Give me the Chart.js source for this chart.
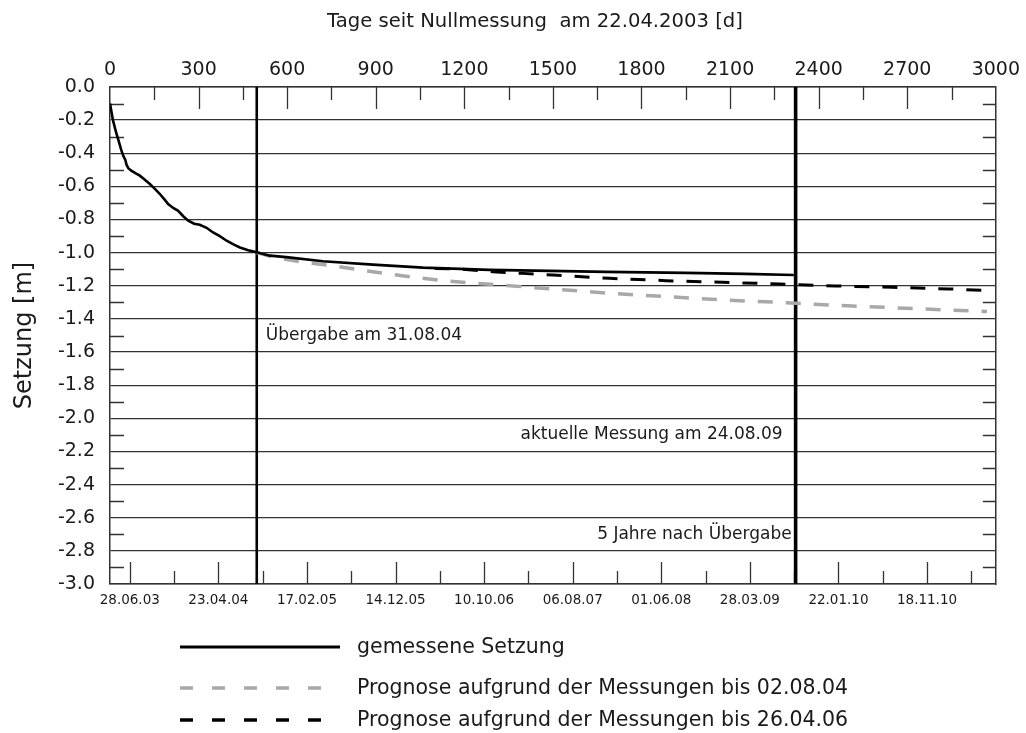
<!DOCTYPE html>
<html>
<head>
<meta charset="utf-8">
<title>Setzung</title>
<script src="https://cdn.jsdelivr.net/npm/chart.js@4.4.0/dist/chart.umd.min.js"></script>
<style>
  html, body { margin: 0; padding: 0; background: #fff; }
  #wrap { width: 1026px; height: 733px; }
</style>
</head>
<body>
<div id="wrap"><canvas id="setzungChart" width="1026" height="733"></canvas></div>
<script>
// Werte: Tage seit Nullmessung (22.04.2003) / Setzung [m]
const measuredDays = [0, 5, 10, 20, 30, 38, 46, 52, 56, 62, 72, 86, 101, 118, 135, 152, 169, 185, 197, 214, 231, 248, 265, 285, 304, 327, 349, 372, 395, 418, 440, 468, 497, 541, 597, 721, 890, 1060, 1285, 1488, 1680, 1950, 2150, 2316]
const measuredSettlement = [-0.10, -0.15, -0.20, -0.27, -0.33, -0.38, -0.42, -0.44, -0.47, -0.49, -0.505, -0.52, -0.535, -0.56, -0.586, -0.615, -0.646, -0.68, -0.707, -0.73, -0.747, -0.78, -0.807, -0.825, -0.832, -0.85, -0.878, -0.90, -0.928, -0.95, -0.969, -0.985, -0.998, -1.018, -1.027, -1.052, -1.072, -1.09, -1.104, -1.11, -1.116, -1.122, -1.128, -1.135]

const prog2004Days = [497, 560, 654, 755, 857, 947, 1037, 1127, 1229, 1330, 1421, 1511, 1691, 1888, 2080, 2272, 2458, 2649, 2841, 2970]
const prog2004Settlement = [-1.0, -1.03, -1.058, -1.079, -1.107, -1.13, -1.15, -1.168, -1.184, -1.196, -1.209, -1.221, -1.245, -1.266, -1.286, -1.300, -1.318, -1.332, -1.346, -1.355]

const prog2006Days = [1100, 1195, 1296, 1398, 1499, 1691, 1883, 2074, 2266, 2458, 2649, 2841, 2970]
const prog2006Settlement = [-1.095, -1.10, -1.115, -1.125, -1.135, -1.155, -1.169, -1.179, -1.189, -1.201, -1.209, -1.219, -1.228]

// Übergabe 31.08.04 und aktuelle Messung / 5 Jahre nach Übergabe
const eventDays = [497, 2322]

// untere Achse: Datum
const dateTickDays = [67, 367, 667, 967, 1267, 1567, 1867, 2167, 2467, 2767]
const dateTickLabels = ["28.06.03", "23.04.04", "17.02.05", "14.12.05", "10.10.06", "06.08.07", "01.06.08", "28.03.09", "22.01.10", "18.11.10"]

const seriesLabels = [
  "gemessene Setzung",
  "Prognose aufgrund der Messungen bis 02.08.04",
  "Prognose aufgrund der Messungen bis 26.04.06",
]

const FONT = '"DejaVu Sans", "Liberation Sans", sans-serif'
const INK = "#1a1a1a"
const GRID = "#333"

function toPoints(xs, ys) {
  return xs.map((x, i) => ({ x: x, y: ys[i] }))
}

// Ticks innen am Rahmen, Beschriftungen im Diagramm, Titel oben, Legende unten
const framePlugin = {
  id: "framePlugin",
  beforeDatasetsDraw(chart) {
    const { ctx, chartArea: a, scales } = chart
    ctx.save()
    ctx.strokeStyle = GRID
    ctx.lineWidth = 1.3
    ctx.beginPath()

    // oben: Tage
    const top = scales.x2.ticks.map((t) => t.value)
    const topStep = top[1] - top[0]
    top.forEach((v) => {
      ;[v, v + topStep / 2].forEach((t, k) => {
        if (t <= scales.x2.min || t >= scales.x2.max) return
        const px = Math.round(scales.x2.getPixelForValue(t)) + 0.5
        ctx.moveTo(px, a.top)
        ctx.lineTo(px, a.top + (k ? 13 : 22))
      })
    })

    // unten: Datum
    const bottom = scales.x.ticks.map((t) => t.value)
    const botStep = bottom[1] - bottom[0]
    bottom.forEach((v) => {
      ;[v, v + botStep / 2].forEach((t, k) => {
        if (t <= scales.x.min || t >= scales.x.max) return
        const px = Math.round(scales.x.getPixelForValue(t)) + 0.5
        ctx.moveTo(px, a.bottom)
        ctx.lineTo(px, a.bottom - (k ? 13 : 22))
      })
    })

    // links/rechts: Zwischenticks
    const yt = scales.y.ticks.map((t) => t.value)
    const yStep = yt[1] - yt[0]
    yt.forEach((v) => {
      const t = v + yStep / 2
      if (t <= scales.y.min || t >= scales.y.max) return
      const py = Math.round(scales.y.getPixelForValue(t)) + 0.5
      ctx.moveTo(a.left, py)
      ctx.lineTo(a.left + 14, py)
      ctx.moveTo(a.right, py)
      ctx.lineTo(a.right - 13, py)
    })
    ctx.stroke()
    ctx.restore()
  },
  afterDraw(chart) {
    const { ctx, scales } = chart
    const x = scales.x2
    const y = scales.y
    ctx.save()
    ctx.fillStyle = INK

    // Titel der oberen Achse
    ctx.font = "19.6px " + FONT
    ctx.textAlign = "center"
    ctx.textBaseline = "middle"
    ctx.fillText("Tage seit Nullmessung  am 22.04.2003 [d]", 535, 22)

    // Beschriftungen an den senkrechten Linien
    ctx.font = "17px " + FONT
    ctx.textAlign = "left"
    ctx.fillText("Übergabe am 31.08.04", x.getPixelForValue(eventDays[0]) + 9, y.getPixelForValue(-1.5))
    ctx.textAlign = "right"
    ctx.fillText("aktuelle Messung am 24.08.09", x.getPixelForValue(eventDays[1]) - 13, y.getPixelForValue(-2.1))
    ctx.fillText("5 Jahre nach Übergabe", x.getPixelForValue(eventDays[1]) - 4, y.getPixelForValue(-2.7))

    // Legende
    const rows = [647, 688, 720]
    ctx.font = "20.5px " + FONT
    ctx.textAlign = "left"
    chart.data.datasets.forEach((ds) => {
      if (ds.legendRow === undefined) return
      const ry = rows[ds.legendRow]
      ctx.beginPath()
      ctx.strokeStyle = ds.borderColor
      ctx.lineWidth = ds.borderDash ? 3.5 : 3
      ctx.setLineDash(ds.borderDash ? [13, 19] : [])
      ctx.moveTo(180, ry)
      ctx.lineTo(340, ry)
      ctx.stroke()
      ctx.setLineDash([])
      ctx.fillText(ds.label, 357, ry + 1)
    })
    ctx.restore()
  },
}

Chart.defaults.font.family = FONT
Chart.defaults.color = INK

const ctx = document.getElementById("setzungChart").getContext("2d")

new Chart(ctx, {
  type: "scatter",
  data: {
    datasets: [
      {
        label: seriesLabels[0],
        legendRow: 0,
        data: toPoints(measuredDays, measuredSettlement),
        showLine: true,
        borderColor: "#000",
        borderWidth: 2.6,
        pointRadius: 0,
        tension: 0,
        xAxisID: "x",
        yAxisID: "y",
      },
      {
        label: seriesLabels[2],
        legendRow: 2,
        data: toPoints(prog2006Days, prog2006Settlement),
        showLine: true,
        borderColor: "#000",
        borderWidth: 3,
        borderDash: [15, 13],
        pointRadius: 0,
        xAxisID: "x",
        yAxisID: "y",
      },
      {
        label: seriesLabels[1],
        legendRow: 1,
        data: toPoints(prog2004Days, prog2004Settlement),
        showLine: true,
        borderColor: "#a8a8a8",
        borderWidth: 3.5,
        borderDash: [15, 13],
        pointRadius: 0,
        xAxisID: "x",
        yAxisID: "y",
      },
      {
        data: toPoints([eventDays[0], eventDays[0]], [0, -3]),
        showLine: true,
        borderColor: "#000",
        borderWidth: 2.6,
        pointRadius: 0,
        xAxisID: "x",
        yAxisID: "y",
      },
      {
        data: toPoints([eventDays[1], eventDays[1]], [0, -3]),
        showLine: true,
        borderColor: "#000",
        borderWidth: 3.6,
        pointRadius: 0,
        xAxisID: "x",
        yAxisID: "y",
      },
    ],
  },
  options: {
    responsive: false,
    animation: false,
    devicePixelRatio: 1,
    layout: { padding: 0 },
    plugins: {
      legend: { display: false },
      tooltip: { enabled: false },
    },
    scales: {
      x: {
        type: "linear",
        position: "bottom",
        min: 0,
        max: 3000,
        afterBuildTicks: (s) => {
          s.ticks = dateTickDays.map((v) => ({ value: v }))
        },
        afterFit: (s) => {
          s.height = 149
        },
        ticks: {
          autoSkip: false,
          maxRotation: 0,
          padding: 8,
          font: { size: 13.5 },
          callback: (v, i) => dateTickLabels[i],
        },
        grid: { display: false, drawTicks: false },
        border: { display: true, color: GRID, width: 1.5 },
      },
      x2: {
        type: "linear",
        position: "top",
        min: 0,
        max: 3000,
        afterFit: (s) => {
          s.height = 87
        },
        ticks: {
          stepSize: 300,
          autoSkip: false,
          maxRotation: 0,
          padding: 6,
          font: { size: 19 },
          callback: (v) => String(v),
        },
        grid: { display: false, drawTicks: false },
        border: { display: true, color: GRID, width: 1.5 },
      },
      y: {
        min: -3,
        max: 0,
        afterFit: (s) => {
          s.width = 110
        },
        ticks: {
          stepSize: 0.2,
          padding: 15,
          font: { size: 19 },
          callback: (v) => (Math.abs(v) < 1e-9 ? "0.0" : v.toFixed(1)),
        },
        grid: { color: GRID, lineWidth: 1.3, drawTicks: false },
        border: { display: true, color: GRID, width: 1.5 },
        title: {
          display: true,
          text: "Setzung [m]",
          font: { size: 24 },
          padding: { top: 10, bottom: 0 },
        },
      },
      y2: {
        position: "right",
        min: -3,
        max: 0,
        afterFit: (s) => {
          s.width = 29
        },
        ticks: { display: false },
        grid: { display: false, drawTicks: false },
        border: { display: true, color: GRID, width: 1.5 },
      },
    },
  },
  plugins: [framePlugin],
})
</script>
</body>
</html>
